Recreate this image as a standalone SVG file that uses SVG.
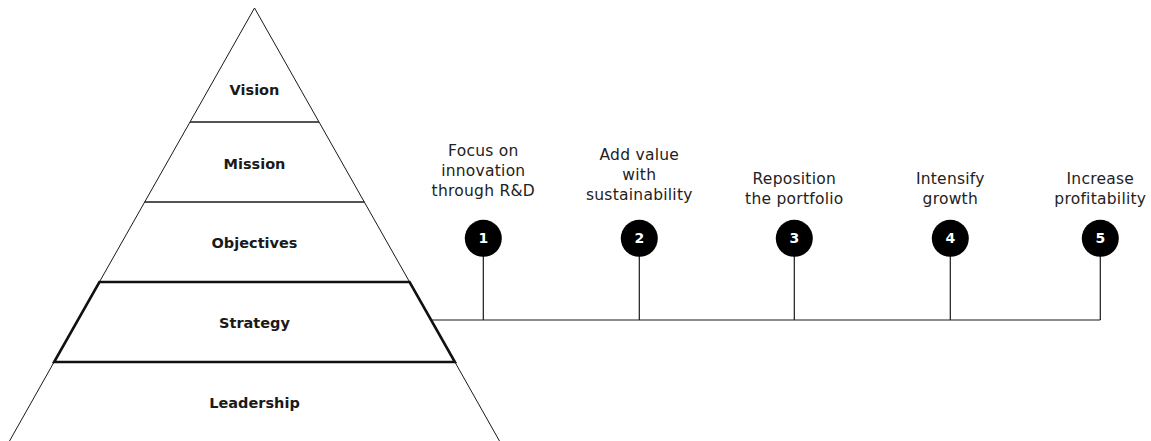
<svg xmlns="http://www.w3.org/2000/svg" width="1151" height="441" viewBox="0 0 1151 441">
<style>
.lvl{fill:none;stroke:#1a1a1a;stroke-width:1}
.strat{fill:none;stroke:#111;stroke-width:2.6;stroke-linejoin:miter}
.lbl{font-family:"DejaVu Sans",sans-serif;font-weight:bold;font-size:14.5px;fill:#1a1a1a;text-anchor:middle}
.cap{font-family:"DejaVu Sans",sans-serif;font-size:15.5px;letter-spacing:0.25px;fill:#222;text-anchor:middle}
.num{font-family:"DejaVu Sans",sans-serif;font-weight:bold;font-size:14px;fill:#fff;text-anchor:middle}
.dot{fill:#000}
.conn{fill:none;stroke:#1a1a1a;stroke-width:1.2}
</style>
<rect width="1151" height="441" fill="#fff"/>
<g id="pyramid">
<g id="vision">
<polygon class="lvl" points="190,122 254.5,8 319,122"/>
<text class="lbl" x="254.5" y="95">Vision</text>
</g>
<g id="mission">
<polygon class="lvl" points="190,122 319,122 364.3,202 144.7,202"/>
<text class="lbl" x="254.5" y="169">Mission</text>
</g>
<g id="objectives">
<polygon class="lvl" points="144.7,202 364.3,202 409.6,282 99.4,282"/>
<text class="lbl" x="254.5" y="248">Objectives</text>
</g>
<g id="leadership">
<path class="lvl" d="M54.1,362 L8.4,443 M454.9,362 L500.6,443"/>
<text class="lbl" x="254.5" y="408">Leadership</text>
</g>
<g id="strategy">
<polygon class="strat" points="99.4,282 409.6,282 454.9,362 54.1,362"/>
<text class="lbl" x="254.5" y="328">Strategy</text>
</g>
</g>
<g id="connectors">
<path class="conn" d="M432,320 H1100.3"/>
<path class="conn" d="M483.3,256 V320 M639.3,256 V320 M794.3,256 V320 M950.3,256 V320 M1100.3,256 V320"/>
</g>
<g id="step1">
<circle class="dot" cx="483.3" cy="238.3" r="18.5"/>
<text class="num" x="483.3" y="243.3">1</text>
<text class="cap" x="483.3" y="156">Focus on</text>
<text class="cap" x="483.3" y="176">innovation</text>
<text class="cap" x="483.3" y="196">through R&amp;D</text>
</g>
<g id="step2">
<circle class="dot" cx="639.3" cy="238.3" r="18.5"/>
<text class="num" x="639.3" y="243.3">2</text>
<text class="cap" x="639.3" y="160">Add value</text>
<text class="cap" x="639.3" y="180">with</text>
<text class="cap" x="639.3" y="200">sustainability</text>
</g>
<g id="step3">
<circle class="dot" cx="794.3" cy="238.3" r="18.5"/>
<text class="num" x="794.3" y="243.3">3</text>
<text class="cap" x="794.3" y="184">Reposition</text>
<text class="cap" x="794.3" y="204">the portfolio</text>
</g>
<g id="step4">
<circle class="dot" cx="950.3" cy="238.3" r="18.5"/>
<text class="num" x="950.3" y="243.3">4</text>
<text class="cap" x="950.3" y="184">Intensify</text>
<text class="cap" x="950.3" y="204">growth</text>
</g>
<g id="step5">
<circle class="dot" cx="1100.3" cy="238.3" r="18.5"/>
<text class="num" x="1100.3" y="243.3">5</text>
<text class="cap" x="1100.3" y="184">Increase</text>
<text class="cap" x="1100.3" y="204">profitability</text>
</g>
</svg>
